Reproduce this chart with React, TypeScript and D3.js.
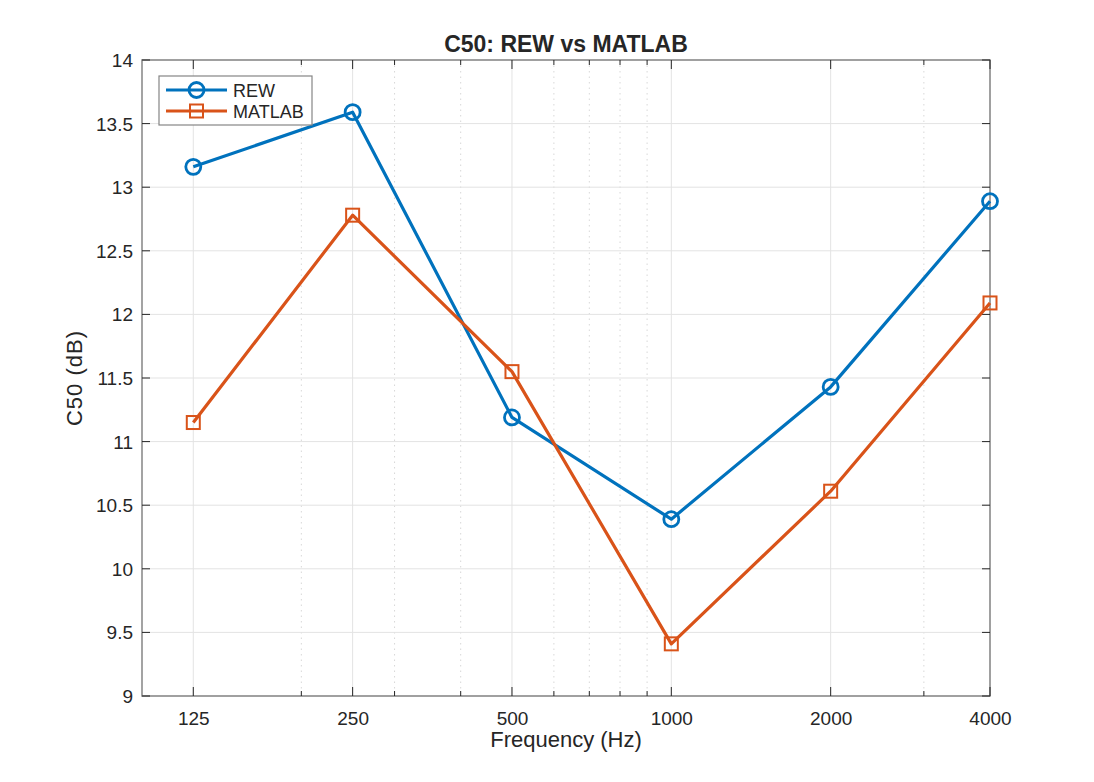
import React, { useRef, useEffect } from 'react';
import * as d3 from 'd3';

const freqs = [125, 250, 500, 1000, 2000, 4000];
const rewValues = [13.16, 13.59, 11.19, 10.39, 11.43, 12.89];
const matlabValues = [11.15, 12.78, 11.55, 9.41, 10.61, 12.09];
const yTicks = [9, 9.5, 10, 10.5, 11, 11.5, 12, 12.5, 13, 13.5, 14];
const minorX = [100, 200, 300, 400, 600, 700, 800, 900, 3000];

const seriesList = [
	{ name: 'REW', values: rewValues, color: '#0072BD', marker: 'circle' },
	{ name: 'MATLAB', values: matlabValues, color: '#D95319', marker: 'square' },
];

const App: React.FC = () => {
	const svgRef = useRef<SVGSVGElement | null>(null);

	useEffect(() => {
		const svg = d3.select(svgRef.current);
		svg.selectAll('*').remove();

		const W = 1094;
		const H = 782;
		const margin = { top: 60, right: 104, bottom: 86, left: 142 };
		const width = W - margin.left - margin.right;
		const height = H - margin.top - margin.bottom;
		const font = "'Liberation Sans', Arial, Helvetica, sans-serif";
		const dark = '#262626';

		const x = d3.scaleLog().domain([100, 4000]).range([0, width]);
		const y = d3.scaleLinear().domain([9, 14]).range([height, 0]);

		svg.append('rect').attr('width', W).attr('height', H).attr('fill', '#fff');

		const g = svg
			.append('g')
			.attr('transform', `translate(${margin.left},${margin.top})`);

		// minor grid (dotted)
		g.append('g')
			.selectAll('line')
			.data(minorX.filter((d) => d > 100))
			.join('line')
			.attr('x1', (d) => x(d))
			.attr('x2', (d) => x(d))
			.attr('y1', 0)
			.attr('y2', height)
			.attr('stroke', '#d8d8d8')
			.attr('stroke-width', 1)
			.attr('stroke-dasharray', '1.5,4');

		// major grid
		g.append('g')
			.selectAll('line')
			.data(freqs)
			.join('line')
			.attr('x1', (d) => x(d))
			.attr('x2', (d) => x(d))
			.attr('y1', 0)
			.attr('y2', height)
			.attr('stroke', '#e3e3e3')
			.attr('stroke-width', 1);
		g.append('g')
			.selectAll('line')
			.data(yTicks)
			.join('line')
			.attr('x1', 0)
			.attr('x2', width)
			.attr('y1', (d) => y(d))
			.attr('y2', (d) => y(d))
			.attr('stroke', '#e3e3e3')
			.attr('stroke-width', 1);

		// box
		g.append('rect')
			.attr('width', width)
			.attr('height', height)
			.attr('fill', 'none')
			.attr('stroke', '#858585')
			.attr('stroke-width', 1.5);

		// ticks
		const ticks = g.append('g').attr('stroke', dark).attr('stroke-width', 1);
		freqs.forEach((d) => {
			ticks.append('line').attr('x1', x(d)).attr('x2', x(d)).attr('y1', height).attr('y2', height - 9);
			ticks.append('line').attr('x1', x(d)).attr('x2', x(d)).attr('y1', 0).attr('y2', 9);
		});
		minorX.filter((d) => d > 100).forEach((d) => {
			ticks.append('line').attr('x1', x(d)).attr('x2', x(d)).attr('y1', height).attr('y2', height - 5);
			ticks.append('line').attr('x1', x(d)).attr('x2', x(d)).attr('y1', 0).attr('y2', 5);
		});
		yTicks.forEach((d) => {
			ticks.append('line').attr('x1', 0).attr('x2', 8).attr('y1', y(d)).attr('y2', y(d));
			ticks.append('line').attr('x1', width).attr('x2', width - 8).attr('y1', y(d)).attr('y2', y(d));
		});

		// tick labels
		g.append('g')
			.selectAll('text')
			.data(freqs)
			.join('text')
			.attr('x', (d) => x(d) + 0.5)
			.attr('y', height + 29)
			.attr('text-anchor', 'middle')
			.attr('font-family', font)
			.attr('font-size', 19)
			.attr('fill', dark)
			.text((d) => String(d));
		g.append('g')
			.selectAll('text')
			.data(yTicks)
			.join('text')
			.attr('x', -9)
			.attr('y', (d) => y(d) + 7)
			.attr('text-anchor', 'end')
			.attr('font-family', font)
			.attr('font-size', 19)
			.attr('fill', dark)
			.text((d) => String(d));

		// axis labels and title
		g.append('text')
			.attr('x', width / 2)
			.attr('y', height + 51)
			.attr('text-anchor', 'middle')
			.attr('font-family', font)
			.attr('font-size', 22)
			.attr('fill', dark)
			.text('Frequency (Hz)');
		g.append('text')
			.attr('transform', `translate(${-60},${height / 2}) rotate(-90)`)
			.attr('text-anchor', 'middle')
			.attr('font-family', font)
			.attr('font-size', 22)
			.attr('letter-spacing', 1)
			.attr('fill', dark)
			.text('C50 (dB)');
		g.append('text')
			.attr('x', width / 2)
			.attr('y', -8)
			.attr('text-anchor', 'middle')
			.attr('font-family', font)
			.attr('font-size', 23)
			.attr('font-weight', 'bold')
			.attr('fill', dark)
			.text('C50: REW vs MATLAB');

		const drawMarker = (
			sel: d3.Selection<SVGGElement, unknown, null, undefined>,
			kind: string,
			cx: number,
			cy: number,
			color: string
		) => {
			if (kind === 'circle') {
				sel.append('circle')
					.attr('cx', cx)
					.attr('cy', cy)
					.attr('r', 7.5)
					.attr('fill', 'none')
					.attr('stroke', color)
					.attr('stroke-width', 2.8);
			} else {
				sel.append('rect')
					.attr('x', cx - 6.5)
					.attr('y', cy - 6.5)
					.attr('width', 13)
					.attr('height', 13)
					.attr('fill', 'none')
					.attr('stroke', color)
					.attr('stroke-width', 2);
			}
		};

		const line = d3
			.line<number>()
			.x((_, i) => x(freqs[i]))
			.y((d) => y(d));

		seriesList.forEach((s) => {
			const sg = g.append('g');
			sg.append('path')
				.datum(s.values)
				.attr('d', line)
				.attr('fill', 'none')
				.attr('stroke', s.color)
				.attr('stroke-width', 3.2)
				.attr('stroke-linejoin', 'round');
			s.values.forEach((v, i) => drawMarker(sg, s.marker, x(freqs[i]), y(v), s.color));
		});

		// legend
		const lg = svg.append('g').attr('transform', 'translate(159,76)');
		lg.append('rect')
			.attr('width', 153)
			.attr('height', 49)
			.attr('fill', '#fff')
			.attr('stroke', '#858585')
			.attr('stroke-width', 1.2);
		seriesList.forEach((s, i) => {
			const cy = 14 + i * 21;
			const row = lg.append('g');
			row.append('line')
				.attr('x1', 7)
				.attr('x2', 68)
				.attr('y1', cy)
				.attr('y2', cy)
				.attr('stroke', s.color)
				.attr('stroke-width', 3.2);
			drawMarker(row, s.marker, 37.5, cy, s.color);
			row.append('text')
				.attr('x', 74)
				.attr('y', cy + 6.5)
				.attr('font-family', font)
				.attr('font-size', 18)
				.attr('fill', dark)
				.text(s.name);
		});
	}, []);

	return (
		<svg
			ref={svgRef}
			width={1094}
			height={782}
			style={{ position: 'absolute', left: 0, top: 0 }}
		/>
	);
};

export default App;
